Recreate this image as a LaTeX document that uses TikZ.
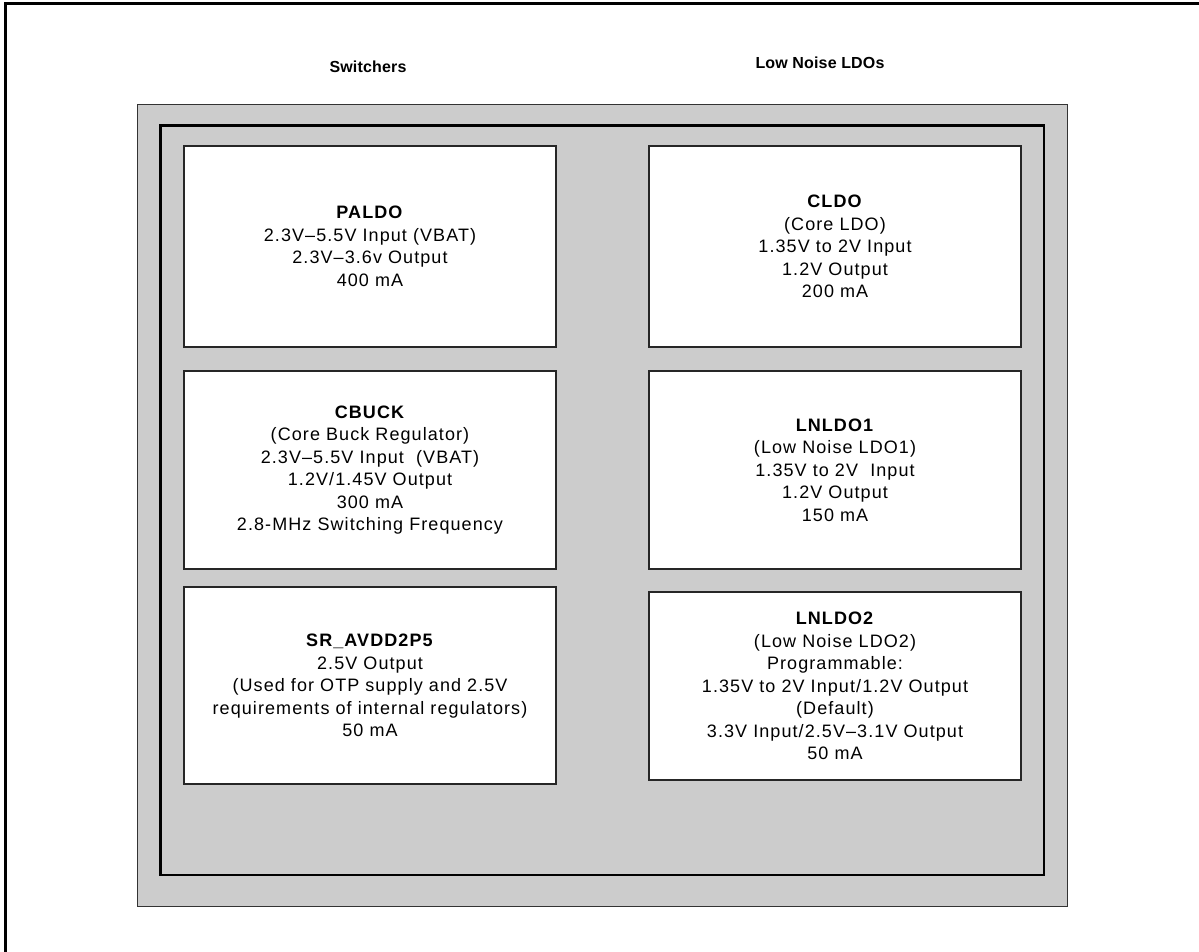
\documentclass[tikz,border=0pt]{standalone}
\usepackage{fontspec}
\setmainfont{Liberation Sans}
\newfontfamily\bodyfont[LetterSpace=6]{Liberation Sans}
\newfontfamily\headfont[LetterSpace=1]{Liberation Sans}
\definecolor{panelgray}{HTML}{CCCCCC}
\begin{document}
\begin{tikzpicture}[x=1pt,y=-1pt,
  blk/.style={draw=black!85, line width=1.4pt, fill=white, minimum width=372pt,
    align=center, inner sep=0pt, font=\bodyfont\fontsize{18}{22.5}\selectfont},
  hdr/.style={inner sep=0pt, font=\headfont\bfseries\fontsize{16}{18}\selectfont}]
\useasboundingbox (0,0) rectangle (1199,951);
\clip (0,0) rectangle (1199,951);
% outer frame (runs off the right and bottom edges)
\draw[line width=2.2pt] (5.5,3.5) rectangle (1215,965);
% headers
\node[hdr] (hsw) at (368,67) {Switchers};
\node[hdr] (hln) at (820,63) {Low Noise LDOs};
% gray panel and thick inner frame
\draw[fill=panelgray, draw=black!80, line width=1pt] (137,104) rectangle (1067.5,906.5);
\draw[line width=2.6pt] (160.5,125.5) rectangle (1044,875);
% left column
\node[blk, minimum height=201pt] (paldo) at (370,246.5)
  {\textbf{PALDO}\\2.3V–5.5V Input (VBAT)\\2.3V–3.6v Output\\400 mA};
\node[blk, minimum height=198pt] (cbuck) at (370,470)
  {\textbf{CBUCK}\\(Core Buck Regulator)\\2.3V–5.5V Input\ \ (VBAT)\\1.2V/1.45V Output\\300 mA\\2.8-MHz Switching Frequency};
\node[blk, minimum height=197pt] (sr) at (370,685.5)
  {\textbf{SR\_AVDD2P5}\\2.5V Output\\(Used for OTP supply and 2.5V\\requirements of internal regulators)\\50 mA};
% right column
\node[blk, minimum height=201pt] (cldo) at (835,246.5)
  {\textbf{CLDO}\\(Core LDO)\\1.35V to 2V Input\\1.2V Output\\200 mA};
\node[blk, minimum height=198pt] (lnldo1) at (835,470)
  {\textbf{LNLDO1}\\(Low Noise LDO1)\\1.35V to 2V\ \ Input\\1.2V Output\\150 mA};
\node[blk, minimum height=188pt] (lnldo2) at (835,686)
  {\textbf{LNLDO2}\\(Low Noise LDO2)\\Programmable:\\1.35V to 2V Input/1.2V Output\\(Default)\\3.3V Input/2.5V–3.1V Output\\50 mA};
\end{tikzpicture}
\end{document}
